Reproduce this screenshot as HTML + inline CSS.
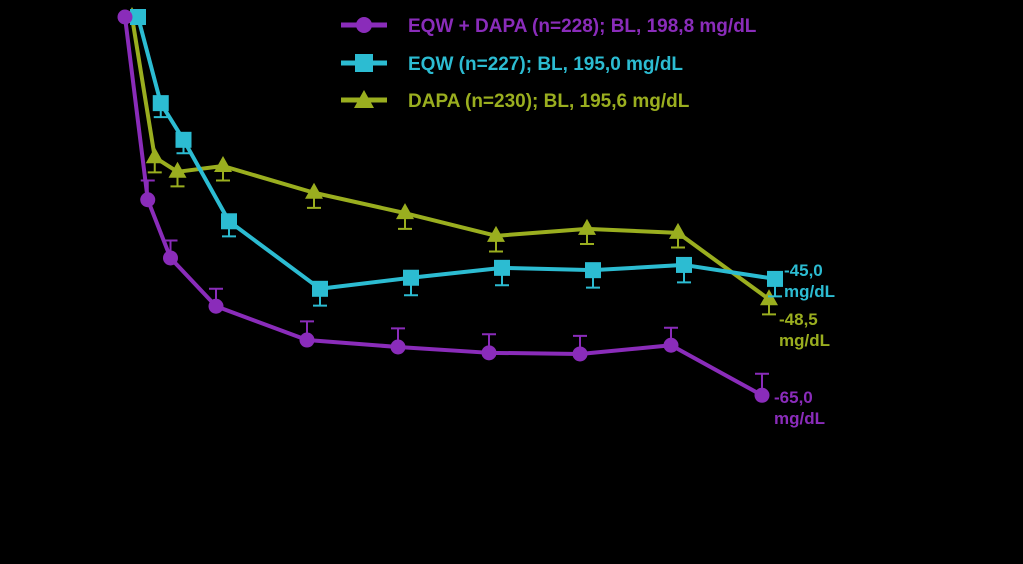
<!DOCTYPE html>
<html><head><meta charset="utf-8"><style>
html,body{margin:0;padding:0;background:#000;width:1023px;height:564px;overflow:hidden}
svg{display:block}
text{font-family:"Liberation Sans",sans-serif;font-weight:bold}
</style></head><body>
<svg id="chart" width="1023" height="564" xmlns="http://www.w3.org/2000/svg">
<g id="legend">
<g><line x1="341" y1="25" x2="387" y2="25" stroke="#8a2cba" stroke-width="5"/><circle cx="364" cy="25" r="8" fill="#8a2cba"/><text x="408" y="32" font-size="19" fill="#8a2cba">EQW + DAPA (n=228); BL, 198,8 mg/dL</text></g>
<g><line x1="341" y1="63" x2="387" y2="63" stroke="#2cbcd2" stroke-width="5"/><rect x="355" y="54" width="18" height="18" fill="#2cbcd2"/><text x="408" y="70" font-size="19" fill="#2cbcd2">EQW (n=227); BL, 195,0 mg/dL</text></g>
<g><line x1="341" y1="100" x2="387" y2="100" stroke="#9aae1f" stroke-width="5"/><polygon points="364,90 374,108 354,108" fill="#9aae1f"/><text x="408" y="107" font-size="19" fill="#9aae1f">DAPA (n=230); BL, 195,6 mg/dL</text></g>
</g>
<g id="plot"></g>
<text x="784" y="276" font-size="17" fill="#2cbcd2">-45,0</text>
<text x="784" y="297" font-size="17" fill="#2cbcd2">mg/dL</text>
<text x="779" y="325" font-size="17" fill="#9aae1f">-48,5</text>
<text x="779" y="346" font-size="17" fill="#9aae1f">mg/dL</text>
<text x="774" y="403" font-size="17" fill="#8a2cba">-65,0</text>
<text x="774" y="424" font-size="17" fill="#8a2cba">mg/dL</text>
</svg>
<script>
const weeks = [0,1,2,4,8,12,16,20,24,28];
const comboValues = [0,-31.4,-41.4,-49.7,-55.5,-56.7,-57.7,-57.9,-56.4,-65.0];
const eqwValues = [0,-14.8,-21.1,-35.1,-46.7,-44.8,-43.1,-43.5,-42.6,-45.0];
const dapaValues = [0,-24.1,-26.6,-25.6,-30.2,-33.7,-37.6,-36.4,-37.1,-48.5];
const comboErr = [0,3.3,3.0,3.0,3.2,3.2,3.2,3.1,3.0,3.7];
const eqwErr = [0,2.4,2.3,2.6,2.9,3.0,3.0,3.0,3.0,3.0];
const dapaErr = [0,2.6,2.5,2.5,2.6,2.7,2.7,2.6,2.5,2.6];
const xScale = w => 125 + w*22.75;
const yScale = v => 17 - v*5.82;
const NS="http://www.w3.org/2000/svg";
const plot=document.getElementById('plot');
function mk(tag,attrs){const e=document.createElementNS(NS,tag);for(const k in attrs)e.setAttribute(k,attrs[k]);return e;}
const series=[
 {name:'dapa',vals:dapaValues,err:dapaErr,dir:1,off:7,color:'#9aae1f',shape:'tri'},
 {name:'eqw',vals:eqwValues,err:eqwErr,dir:1,off:13,color:'#2cbcd2',shape:'sq'},
 {name:'combo',vals:comboValues,err:comboErr,dir:-1,off:0,color:'#8a2cba',shape:'circ'}
];
series.forEach(s=>{
  const g=mk('g',{});
  
  
  const pts=weeks.map((w,i)=>[xScale(w)+s.off,yScale(s.vals[i])]);
  const line=mk('polyline',{points:pts.map(p=>p.join(',')).join(' '),fill:'none',stroke:s.color,'stroke-width':4,'stroke-linejoin':'round'});
  
  
  g.appendChild(line);
  pts.forEach((p,i)=>{
    if(s.err[i]>0){
      const ye=p[1]+s.dir*s.err[i]*5.82;
      const eb=mk('path',{d:`M${p[0]},${p[1]}V${ye}M${p[0]-7},${ye}H${p[0]+7}`,stroke:s.color,'stroke-width':2,fill:'none'});
      
      
      g.appendChild(eb);
    }
    let m;
    if(s.shape==='circ') m=mk('circle',{cx:p[0],cy:p[1],r:7.5,fill:s.color});
    else if(s.shape==='sq') m=mk('rect',{x:p[0]-8,y:p[1]-8,width:16,height:16,fill:s.color});
    else m=mk('polygon',{points:`${p[0]},${p[1]-10} ${p[0]+9},${p[1]+6} ${p[0]-9},${p[1]+6}`,fill:s.color});
    
    
    g.appendChild(m);
  });
  plot.appendChild(g);
});
</script>
</body></html>
